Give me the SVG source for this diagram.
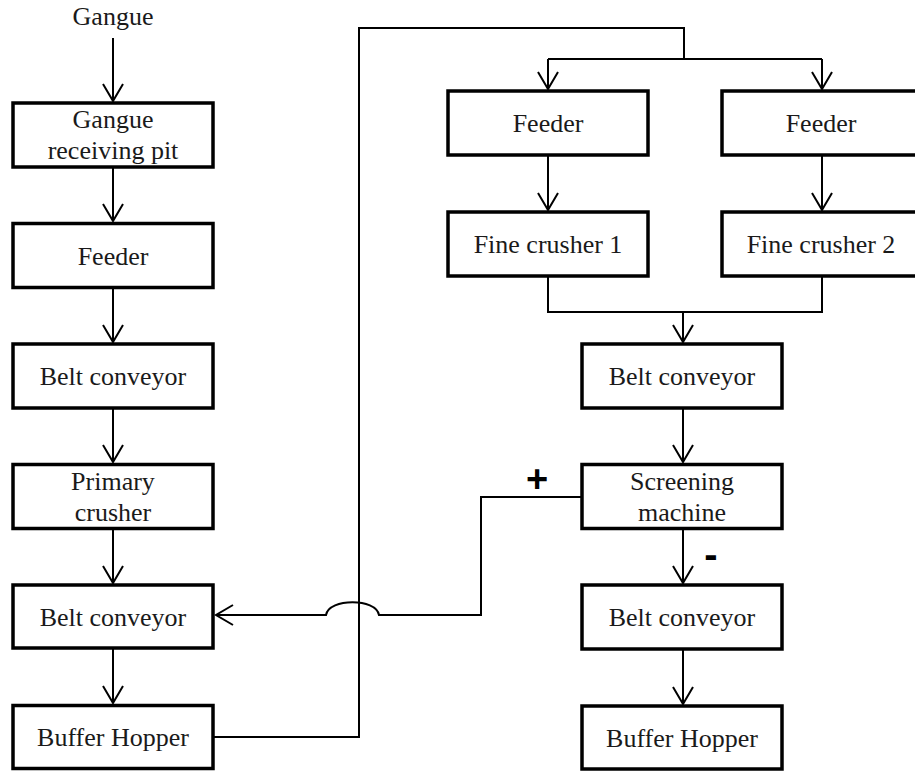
<svg xmlns="http://www.w3.org/2000/svg" width="915" height="771" viewBox="0 0 915 771">
<style>
.box{fill:#fff;stroke:#000;stroke-width:3.5}
.t{font-family:"Liberation Serif","Times New Roman",serif;font-size:26px;fill:#1a1a1a;text-anchor:middle}
.c{fill:none;stroke:#000;stroke-width:2}
.sign{font-family:"Liberation Sans",Arial,sans-serif;font-weight:bold;fill:#000;text-anchor:middle}
</style>
<defs>
<marker id="ah" markerUnits="userSpaceOnUse" markerWidth="24" markerHeight="24" viewBox="-20 -12 24 24" refX="0" refY="0" orient="auto">
<path d="M-17,-10 L0,0 L-17,10" fill="none" stroke="#000" stroke-width="2"/>
</marker>
</defs>
<rect width="915" height="771" fill="#fff"/>
<text class="t" x="113" y="25">Gangue</text>
<g id="connectors">
<line class="c" x1="113" y1="38" x2="113" y2="101" marker-end="url(#ah)"/>
<line class="c" x1="113" y1="167" x2="113" y2="221" marker-end="url(#ah)"/>
<line class="c" x1="113" y1="288" x2="113" y2="342" marker-end="url(#ah)"/>
<line class="c" x1="113" y1="408" x2="113" y2="462" marker-end="url(#ah)"/>
<line class="c" x1="113" y1="529" x2="113" y2="583" marker-end="url(#ah)"/>
<line class="c" x1="113" y1="648" x2="113" y2="703" marker-end="url(#ah)"/>
<path class="c" d="M214,737 L359,737 L359,28 L684,28 L684,59"/>
<path class="c" d="M548,59 L822,59"/>
<line class="c" x1="548" y1="59" x2="548" y2="89" marker-end="url(#ah)"/>
<line class="c" x1="822" y1="59" x2="822" y2="89" marker-end="url(#ah)"/>
<line class="c" x1="548" y1="155" x2="548" y2="210" marker-end="url(#ah)"/>
<line class="c" x1="822" y1="155" x2="822" y2="210" marker-end="url(#ah)"/>
<path class="c" d="M548,276 L548,312 L822,312 L822,276"/>
<line class="c" x1="683" y1="312" x2="683" y2="342" marker-end="url(#ah)"/>
<line class="c" x1="683" y1="408" x2="683" y2="462" marker-end="url(#ah)"/>
<line class="c" x1="683" y1="529" x2="683" y2="583" marker-end="url(#ah)"/>
<line class="c" x1="683" y1="649" x2="683" y2="704" marker-end="url(#ah)"/>
<path class="c" d="M581,497 L481,497 L481,615 L379,615 C376,598 329,598 326,615 L216,615" marker-end="url(#ah)"/>
<text class="sign" x="537" y="492" font-size="38">+</text>
<text class="sign" x="711" y="568" font-size="40">-</text>
</g>
<g id="gangue-pit"><rect class="box" x="13" y="103" width="200" height="64"/><text class="t" x="113" y="128">Gangue</text><text class="t" x="113" y="159">receiving pit</text></g>
<g id="feeder-left"><rect class="box" x="13" y="223.5" width="200" height="64"/><text class="t" x="113" y="265">Feeder</text></g>
<g id="belt1"><rect class="box" x="13" y="344" width="200" height="64"/><text class="t" x="113" y="385">Belt conveyor</text></g>
<g id="primary-crusher"><rect class="box" x="13" y="464.5" width="200" height="64"/><text class="t" x="113" y="490">Primary</text><text class="t" x="113" y="521">crusher</text></g>
<g id="belt2"><rect class="box" x="13" y="585" width="200" height="63"/><text class="t" x="113" y="626">Belt conveyor</text></g>
<g id="buffer1"><rect class="box" x="13" y="705.5" width="200" height="63"/><text class="t" x="113" y="746">Buffer Hopper</text></g>
<g id="feeder1"><rect class="box" x="448" y="91" width="200" height="64"/><text class="t" x="548" y="132">Feeder</text></g>
<g id="feeder2"><rect class="box" x="722" y="91" width="200" height="64"/><text class="t" x="821" y="132">Feeder</text></g>
<g id="fine1"><rect class="box" x="448" y="212" width="200" height="64"/><text class="t" x="548" y="253">Fine crusher 1</text></g>
<g id="fine2"><rect class="box" x="722" y="212" width="200" height="64"/><text class="t" x="821" y="253">Fine crusher 2</text></g>
<g id="belt3"><rect class="box" x="582" y="344" width="200" height="64"/><text class="t" x="682" y="385">Belt conveyor</text></g>
<g id="screening"><rect class="box" x="582" y="464.5" width="200" height="64"/><text class="t" x="682" y="490">Screening</text><text class="t" x="682" y="521">machine</text></g>
<g id="belt4"><rect class="box" x="582" y="585" width="200" height="64"/><text class="t" x="682" y="626">Belt conveyor</text></g>
<g id="buffer2"><rect class="box" x="582" y="706" width="200" height="63"/><text class="t" x="682" y="747">Buffer Hopper</text></g>
</svg>
